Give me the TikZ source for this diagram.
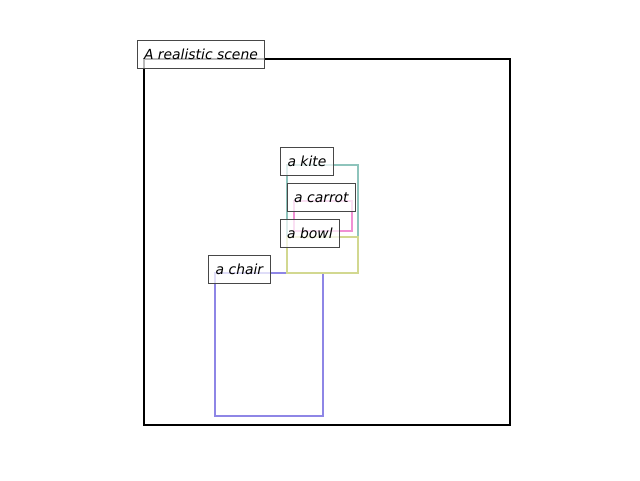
\documentclass[tikz,border=0pt]{standalone}
\usepackage{fontspec}
\setsansfont{DejaVu Sans}
\definecolor{kitec}{HTML}{8EC4BC}
\definecolor{carrotc}{HTML}{F090D4}
\definecolor{bowlc}{HTML}{D2D890}
\definecolor{chairc}{HTML}{8E86E6}
\definecolor{lblborder}{HTML}{474747}
\tikzset{
  objbox/.style={line width=2pt},
  lbl/.style={draw=lblborder, line width=0.9pt, fill=white, fill opacity=0.72, text opacity=1,
    inner sep=0pt, anchor=north west,
    font=\sffamily\itshape\fontsize{13.9}{16}\selectfont},
}
\begin{document}
\begin{tikzpicture}[x=1pt,y=-1pt]
\useasboundingbox (0,0) rectangle (640,480);
% scene frame
\draw[line width=2pt, black] (144,59) rectangle (510,425);
% objects
\draw[objbox, chairc] (215,273) rectangle (323,416);
\draw[objbox, kitec] (287,165) rectangle (358,237);
\draw[objbox, carrotc] (294,201) rectangle (352,231);
\draw[objbox, bowlc] (287,237) rectangle (358,273);
% labels
\node[lbl, minimum width=127pt, minimum height=28pt] (scene) at (137,40) {A realistic scene};
\node[lbl, minimum width=53pt, minimum height=28pt] (kite) at (280,147) {a kite};
\node[lbl, minimum width=68pt, minimum height=28pt] (carrot) at (287,183) {a carrot};
\node[lbl, minimum width=59pt, minimum height=28pt] (bowl) at (280,219) {a bowl};
\node[lbl, minimum width=62pt, minimum height=28pt] (chair) at (208,255) {a chair};
\end{tikzpicture}
\end{document}
